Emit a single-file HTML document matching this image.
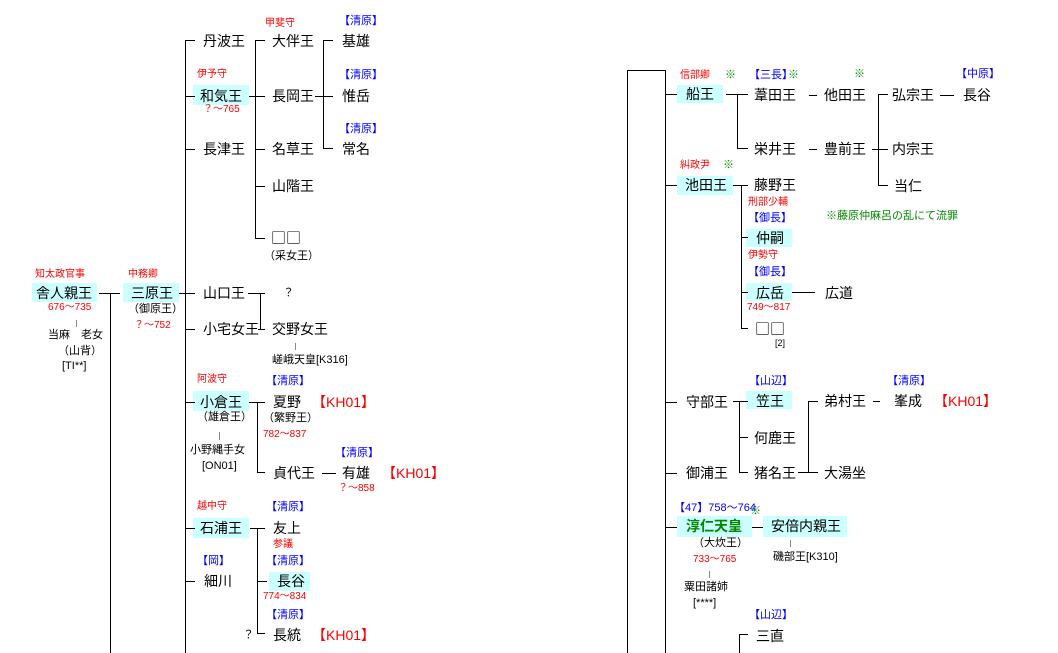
<!DOCTYPE html>
<html><head><meta charset="utf-8"><style>
body{margin:0;width:1058px;height:653px;background:#fff;position:relative;overflow:hidden;font-family:"Liberation Sans","Noto Sans CJK JP","IPAGothic",sans-serif;color:#000}
.t{position:absolute;white-space:nowrap;line-height:1}
.n{font-size:14px}
.r{color:#f00;font-size:10px}
.b{color:#00f;font-size:11px}
.g{color:#080;font-size:11px}
.s{font-size:11px}
.k{color:#f00;font-size:14px}
.q{font-family:"Noto Sans CJK JP",sans-serif;font-size:15px}
.bx{position:absolute;background:#ccffff}
.h{position:absolute;height:1px;background:#000}
.v{position:absolute;width:1px;background:#000}
.gv{position:absolute;width:1px;background:#888}
</style></head><body>
<div class="bx" style="left:32px;top:283px;width:65px;height:19px"></div>
<div class="bx" style="left:123px;top:283px;width:56px;height:19px"></div>
<div class="bx" style="left:193px;top:85px;width:56px;height:20px"></div>
<div class="bx" style="left:193px;top:391px;width:56px;height:20px"></div>
<div class="bx" style="left:193px;top:518px;width:56px;height:20px"></div>
<div class="bx" style="left:269px;top:572px;width:41px;height:19px"></div>
<div class="bx" style="left:677px;top:85px;width:46px;height:18px"></div>
<div class="bx" style="left:677px;top:176px;width:56px;height:19px"></div>
<div class="bx" style="left:746px;top:229px;width:46px;height:18px"></div>
<div class="bx" style="left:746px;top:283px;width:46px;height:18px"></div>
<div class="bx" style="left:746px;top:391px;width:46px;height:18px"></div>
<div class="bx" style="left:677px;top:516px;width:75px;height:21px"></div>
<div class="bx" style="left:763px;top:516px;width:84px;height:21px"></div>

<div class="h" style="left:99px;top:293px;width:21px"></div>
<div class="v" style="left:110px;top:293px;height:360px"></div>
<div class="h" style="left:179px;top:293px;width:16px"></div>
<div class="v" style="left:185px;top:40px;height:613px"></div>
<div class="h" style="left:185px;top:40px;width:10px"></div>
<div class="h" style="left:185px;top:96px;width:10px"></div>
<div class="h" style="left:185px;top:149px;width:10px"></div>
<div class="h" style="left:185px;top:329px;width:10px"></div>
<div class="h" style="left:185px;top:402px;width:10px"></div>
<div class="h" style="left:185px;top:528px;width:10px"></div>
<div class="h" style="left:185px;top:581px;width:10px"></div>
<div class="v" style="left:255px;top:40px;height:199px"></div>
<div class="h" style="left:255px;top:40px;width:10px"></div>
<div class="h" style="left:249px;top:96px;width:16px"></div>
<div class="h" style="left:255px;top:149px;width:10px"></div>
<div class="h" style="left:255px;top:186px;width:10px"></div>
<div class="h" style="left:255px;top:238px;width:10px"></div>
<div class="v" style="left:323px;top:40px;height:109px"></div>
<div class="h" style="left:323px;top:40px;width:10px"></div>
<div class="h" style="left:315px;top:96px;width:18px"></div>
<div class="h" style="left:323px;top:148px;width:10px"></div>
<div class="h" style="left:248px;top:293px;width:17px"></div>
<div class="v" style="left:260px;top:293px;height:36px"></div>
<div class="h" style="left:258px;top:329px;width:7px"></div>
<div class="gv" style="left:295px;top:343px;height:7px"></div>
<div class="gv" style="left:76px;top:320px;height:7px"></div>
<div class="gv" style="left:219px;top:432px;height:8px"></div>
<div class="h" style="left:249px;top:402px;width:16px"></div>
<div class="v" style="left:257px;top:402px;height:71px"></div>
<div class="h" style="left:257px;top:472px;width:8px"></div>
<div class="h" style="left:322px;top:473px;width:14px"></div>
<div class="h" style="left:250px;top:528px;width:15px"></div>
<div class="v" style="left:257px;top:528px;height:106px"></div>
<div class="h" style="left:257px;top:581px;width:10px"></div>
<div class="h" style="left:257px;top:633px;width:8px"></div>

<div class="v" style="left:627px;top:70px;height:583px"></div>
<div class="h" style="left:627px;top:70px;width:38px"></div>
<div class="v" style="left:665px;top:70px;height:583px"></div>
<div class="h" style="left:665px;top:94px;width:12px"></div>
<div class="h" style="left:665px;top:185px;width:12px"></div>
<div class="h" style="left:665px;top:402px;width:12px"></div>
<div class="h" style="left:665px;top:473px;width:12px"></div>
<div class="h" style="left:665px;top:527px;width:12px"></div>
<div class="h" style="left:726px;top:94px;width:22px"></div>
<div class="v" style="left:737px;top:94px;height:55px"></div>
<div class="h" style="left:737px;top:148px;width:11px"></div>
<div class="h" style="left:809px;top:95px;width:8px"></div>
<div class="h" style="left:809px;top:149px;width:8px"></div>
<div class="v" style="left:878px;top:94px;height:92px"></div>
<div class="h" style="left:878px;top:94px;width:10px"></div>
<div class="h" style="left:872px;top:149px;width:16px"></div>
<div class="h" style="left:878px;top:185px;width:10px"></div>
<div class="h" style="left:940px;top:95px;width:14px"></div>
<div class="h" style="left:733px;top:185px;width:15px"></div>
<div class="v" style="left:741px;top:185px;height:144px"></div>
<div class="h" style="left:741px;top:237px;width:7px"></div>
<div class="h" style="left:741px;top:292px;width:7px"></div>
<div class="h" style="left:741px;top:328px;width:7px"></div>
<div class="h" style="left:792px;top:292px;width:23px"></div>
<div class="h" style="left:733px;top:401px;width:15px"></div>
<div class="v" style="left:739px;top:401px;height:72px"></div>
<div class="h" style="left:739px;top:437px;width:9px"></div>
<div class="h" style="left:739px;top:472px;width:9px"></div>
<div class="h" style="left:798px;top:472px;width:20px"></div>
<div class="v" style="left:808px;top:401px;height:72px"></div>
<div class="h" style="left:808px;top:401px;width:10px"></div>
<div class="h" style="left:873px;top:401px;width:7px"></div>
<div class="h" style="left:752px;top:527px;width:11px"></div>
<div class="gv" style="left:790px;top:540px;height:7px"></div>
<div class="gv" style="left:709px;top:571px;height:7px"></div>
<div class="v" style="left:739px;top:634px;height:19px"></div>
<div class="h" style="left:739px;top:634px;width:9px"></div>

<div class="t r" style="left:35px;top:270px">知太政官事</div>
<div class="t n" style="left:36px;top:286px">舎人親王</div>
<div class="t r" style="left:48px;top:303px">676～735</div>
<div class="t s" style="left:48px;top:330px">当麻　老女</div>
<div class="t s" style="left:58px;top:346px">（山背）</div>
<div class="t s" style="left:62px;top:361px">[TI**]</div>
<div class="t r" style="left:128px;top:270px">中務卿</div>
<div class="t n" style="left:131px;top:286px">三原王</div>
<div class="t s" style="left:128px;top:304px">（御原王）</div>
<div class="t r" style="left:134px;top:321px">？～752</div>
<div class="t n" style="left:203px;top:34px">丹波王</div>
<div class="t r" style="left:197px;top:70px">伊予守</div>
<div class="t n" style="left:200px;top:89px">和気王</div>
<div class="t r" style="left:203px;top:105px">？～765</div>
<div class="t n" style="left:203px;top:142px">長津王</div>
<div class="t r" style="left:265px;top:19px">甲斐守</div>
<div class="t n" style="left:272px;top:34px">大伴王</div>
<div class="t n" style="left:272px;top:89px">長岡王</div>
<div class="t n" style="left:272px;top:142px">名草王</div>
<div class="t n" style="left:272px;top:179px">山階王</div>
<div class="t q" style="left:271px;top:230px">□□</div>
<div class="t s" style="left:264px;top:251px">（采女王）</div>
<div class="t b" style="left:339px;top:16px">【清原】</div>
<div class="t b" style="left:339px;top:70px">【清原】</div>
<div class="t b" style="left:339px;top:124px">【清原】</div>
<div class="t n" style="left:342px;top:34px">基雄</div>
<div class="t n" style="left:342px;top:89px">惟岳</div>
<div class="t n" style="left:342px;top:142px">常名</div>
<div class="t n" style="left:203px;top:286px">山口王</div>
<div class="t s" style="left:283px;top:288px">？</div>
<div class="t n" style="left:203px;top:322px">小宅女王</div>
<div class="t n" style="left:272px;top:322px">交野女王</div>
<div class="t s" style="left:272px;top:355px">嵯峨天皇[K316]</div>
<div class="t r" style="left:197px;top:375px">阿波守</div>
<div class="t n" style="left:200px;top:395px">小倉王</div>
<div class="t s" style="left:197px;top:412px">（雄倉王）</div>
<div class="t s" style="left:190px;top:445px">小野縄手女</div>
<div class="t s" style="left:202px;top:461px">[ON01]</div>
<div class="t b" style="left:266px;top:376px">【清原】</div>
<div class="t n" style="left:273px;top:395px">夏野</div>
<div class="t k" style="left:312px;top:395px">【KH01】</div>
<div class="t s" style="left:263px;top:413px">（繁野王）</div>
<div class="t r" style="left:263px;top:430px">782～837</div>
<div class="t b" style="left:335px;top:448px">【清原】</div>
<div class="t n" style="left:273px;top:466px">貞代王</div>
<div class="t n" style="left:342px;top:466px">有雄</div>
<div class="t k" style="left:382px;top:466px">【KH01】</div>
<div class="t r" style="left:338px;top:484px">？～858</div>
<div class="t r" style="left:197px;top:502px">越中守</div>
<div class="t n" style="left:200px;top:521px">石浦王</div>
<div class="t b" style="left:266px;top:502px">【清原】</div>
<div class="t n" style="left:273px;top:521px">友上</div>
<div class="t r" style="left:273px;top:540px">参議</div>
<div class="t b" style="left:266px;top:556px">【清原】</div>
<div class="t n" style="left:277px;top:574px">長谷</div>
<div class="t r" style="left:263px;top:592px">774～834</div>
<div class="t b" style="left:266px;top:610px">【清原】</div>
<div class="t s" style="left:243px;top:630px">？</div>
<div class="t n" style="left:273px;top:628px">長統</div>
<div class="t k" style="left:312px;top:628px">【KH01】</div>
<div class="t b" style="left:197px;top:556px">【岡】</div>
<div class="t n" style="left:204px;top:574px">細川</div>

<div class="t r" style="left:680px;top:71px">信部卿</div>
<div class="t g" style="left:725px;top:70px">※</div>
<div class="t n" style="left:686px;top:87px">船王</div>
<div class="t b" style="left:749px;top:70px">【三長】</div>
<div class="t g" style="left:788px;top:70px">※</div>
<div class="t g" style="left:854px;top:69px">※</div>
<div class="t b" style="left:956px;top:69px">【中原】</div>
<div class="t n" style="left:754px;top:88px">葦田王</div>
<div class="t n" style="left:824px;top:88px">他田王</div>
<div class="t n" style="left:892px;top:88px">弘宗王</div>
<div class="t n" style="left:963px;top:88px">長谷</div>
<div class="t n" style="left:754px;top:142px">栄井王</div>
<div class="t n" style="left:824px;top:142px">豊前王</div>
<div class="t n" style="left:892px;top:142px">内宗王</div>
<div class="t n" style="left:894px;top:179px">当仁</div>
<div class="t r" style="left:680px;top:161px">糾政尹</div>
<div class="t g" style="left:723px;top:160px">※</div>
<div class="t n" style="left:685px;top:178px">池田王</div>
<div class="t n" style="left:754px;top:178px">藤野王</div>
<div class="t r" style="left:748px;top:198px">刑部少輔</div>
<div class="t b" style="left:748px;top:213px">【御長】</div>
<div class="t n" style="left:756px;top:231px">仲嗣</div>
<div class="t g" style="left:826px;top:211px">※藤原仲麻呂の乱にて流罪</div>
<div class="t r" style="left:748px;top:251px">伊勢守</div>
<div class="t b" style="left:748px;top:267px">【御長】</div>
<div class="t n" style="left:756px;top:286px">広岳</div>
<div class="t r" style="left:747px;top:303px">749～817</div>
<div class="t n" style="left:825px;top:286px">広道</div>
<div class="t q" style="left:755px;top:321px">□□</div>
<div class="t s" style="left:775px;top:339px;font-size:9px">[2]</div>
<div class="t b" style="left:749px;top:376px">【山辺】</div>
<div class="t n" style="left:686px;top:395px">守部王</div>
<div class="t n" style="left:756px;top:394px">笠王</div>
<div class="t n" style="left:754px;top:431px">何鹿王</div>
<div class="t n" style="left:686px;top:466px">御浦王</div>
<div class="t n" style="left:754px;top:466px">猪名王</div>
<div class="t n" style="left:824px;top:394px">弟村王</div>
<div class="t b" style="left:887px;top:376px">【清原】</div>
<div class="t n" style="left:894px;top:394px">峯成</div>
<div class="t k" style="left:934px;top:394px">【KH01】</div>
<div class="t n" style="left:824px;top:466px">大湯坐</div>
<div class="t b" style="left:674px;top:503px">【47】758～764</div>
<div class="t g" style="left:750px;top:506px">※</div>
<div class="t n" style="left:686px;top:519px;color:#080;font-weight:bold">淳仁天皇</div>
<div class="t n" style="left:771px;top:519px">安倍内親王</div>
<div class="t s" style="left:693px;top:538px">（大炊王）</div>
<div class="t r" style="left:693px;top:555px">733～765</div>
<div class="t s" style="left:773px;top:552px">磯部王[K310]</div>
<div class="t s" style="left:684px;top:582px">粟田諸姉</div>
<div class="t s" style="left:693px;top:598px">[****]</div>
<div class="t b" style="left:749px;top:610px">【山辺】</div>
<div class="t n" style="left:756px;top:629px">三直</div>
</body></html>
